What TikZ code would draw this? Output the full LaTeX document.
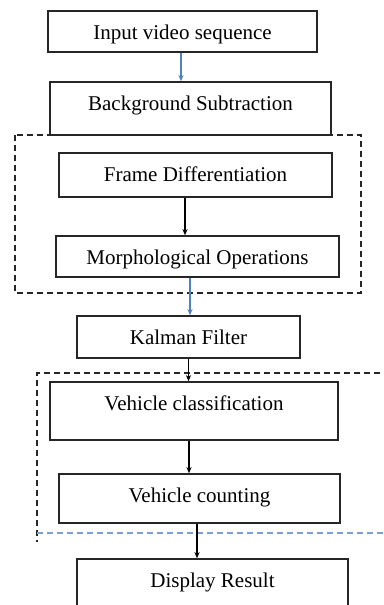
\documentclass[tikz,border=0pt]{standalone}
\usepackage{fontspec}
\setmainfont{Liberation Serif}
\usetikzlibrary{arrows.meta}
\definecolor{lineblue}{RGB}{79,129,189}
\definecolor{dashblue}{RGB}{120,160,210}
\tikzset{arrow/.style={draw,->,>={Stealth[length=6pt,width=5pt,inset=1.5pt]},line width=1.1pt,#1}}
\tikzset{arrow/.default={black}}
\tikzset{font={\fontsize{21pt}{25}\selectfont}}
\tikzset{blk/.style={draw=black!85,line width=1.5pt,inner sep=0pt,text height=28pt,anchor=base}}
\tikzset{grp/.style={line width=1.3pt,dash pattern=on 6pt off 4pt,#1}}
\tikzset{grp/.default={black!85}}

\begin{document}
\begin{tikzpicture}[x=1pt,y=-1pt]
    \useasboundingbox (0,0) rectangle (383,605);
    % dashed groups
    \draw[grp] (15,135) rectangle (361,293);
    \coordinate (g2) at (37,373);
    \draw[grp] (390,373) -- (g2) -- (37,542);
    \draw[grp=dashblue] (37,533) -- (390,533);
    \foreach \i/\x/\y/\w/\d/\t in {1/182.5/39/269/13/Input video sequence,
                                   2/190.5/110/281/25/Background Subtraction,
                                   3/195.5/181/273/16/Frame Differentiation,
                                   4/197.5/264/283/13/Morphological Operations,
                                   5/188.5/344/223/14/Kalman Filter,
                                   6/194/410/288/30/Vehicle classification,
                                   7/199.5/502/281/21/Vehicle counting,
                                   8/212.5/587/271/30/Display Result}{
        \node[blk,minimum width=\w pt,text depth=\d pt] (b\i) at (\x,\y) {\t};
    }
    \foreach \a/\b/\o/\c in {1/2/-1.5/lineblue, 3/4/-10.5/black, 4/5/-7.5/lineblue,
                             5/6/0/black, 6/7/-5/black, 7/8/-2.5/black}{
        \path[arrow=\c] ([xshift=\o pt]b\a.south) -- ([xshift=\o pt]b\a.south |- b\b.north);
    }
\end{tikzpicture}
\end{document}
